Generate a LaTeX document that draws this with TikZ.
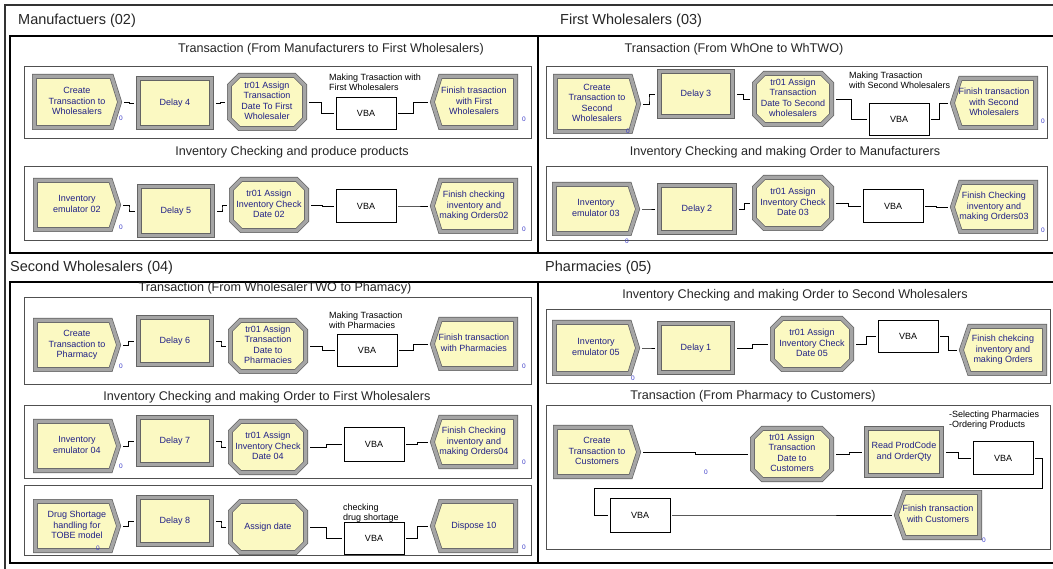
\documentclass[tikz,border=0pt]{standalone}
\usepackage{fontspec}
\setmainfont{Liberation Sans}
\usetikzlibrary{calc}

\definecolor{modfill}{RGB}{251,249,194}
\definecolor{bevdark}{RGB}{100,100,100}
\definecolor{bevmid}{RGB}{165,165,165}
\definecolor{modtext}{RGB}{32,32,135}
\definecolor{zerocol}{RGB}{60,60,200}
\definecolor{subline}{RGB}{80,80,80}

\tikzset{
  bevel/.style={fill=modfill, draw=bevdark, line width=0.7pt, double=bevmid, double distance=3.4pt, line join=miter},
  modbox/.style={rectangle, inner sep=0pt, text=modtext, font=\fontsize{9}{10.5}\selectfont},
  vbabox/.style={rectangle, draw=black, line width=0.7pt, fill=white, inner sep=0pt, font=\fontsize{9}{10.5}\selectfont},
  conn/.style={draw=black, line width=0.7pt, shorten <=2pt, shorten >=2pt},
  grp/.style={draw=black, line width=1.6pt},
  subbox/.style={draw=subline, line width=0.8pt},
  sectitle/.style={anchor=west, font=\fontsize{14.5}{16}\selectfont, text=black!85, inner sep=0pt},
  subtitle/.style={font=\fontsize{12.6}{14}\selectfont, text=black!85, inner sep=0pt},
  note/.style={anchor=north west, align=left, font=\fontsize{9}{10}\selectfont, inner sep=0pt},
  zero/.style={font=\fontsize{6.5}{7}\selectfont, text=zerocol, inner sep=0pt},
}

% centred multi-line module caption that never widens its node
\newcommand\mtext[1]{\makebox[0pt]{\begin{tabular}{@{}c@{}}#1\end{tabular}}}

% inner outline of a module with centre (#1,#2), width #3, height #4
\newcommand\modgeom[4]{%
  \pgfmathsetmacro\gxl{#1-#3/2+2.4}%
  \pgfmathsetmacro\gxr{#1+#3/2-2.4}%
  \pgfmathsetmacro\gyt{#2-#4/2+2.4}%
  \pgfmathsetmacro\gyb{#2+#4/2-2.4}}

% Create module: arrow pointing right
\newcommand\createmod[6]{%
  \modgeom{#2}{#3}{#4}{#5}%
  \path[bevel] (\gxl,\gyt) -- ({\gxr-8},\gyt) -- (\gxr,#3) -- ({\gxr-8},\gyb) -- (\gxl,\gyb) -- cycle;
  \node[modbox, minimum width=#4, minimum height=#5] (#1) at (#2,#3) {\mtext{#6}};}

% Dispose module: point on the left
\newcommand\disposemod[6]{%
  \modgeom{#2}{#3}{#4}{#5}%
  \path[bevel] ({\gxl+8},\gyt) -- (\gxr,\gyt) -- (\gxr,\gyb) -- ({\gxl+8},\gyb) -- (\gxl,#3) -- cycle;
  \node[modbox, minimum width=#4, minimum height=#5] (#1) at (#2,#3) {\mtext{#6}};}

% Process / ReadWrite module: plain rectangle
\newcommand\procmod[6]{%
  \modgeom{#2}{#3}{#4}{#5}%
  \path[bevel] (\gxl,\gyt) rectangle (\gxr,\gyb);
  \node[modbox, minimum width=#4, minimum height=#5] (#1) at (#2,#3) {\mtext{#6}};}

% Assign module: chamfered rectangle
\newcommand\assignmod[6]{%
  \modgeom{#2}{#3}{#4}{#5}%
  \path[bevel] ({\gxl+10},\gyt) -- ({\gxr-10},\gyt) -- (\gxr,{\gyt+10}) -- (\gxr,{\gyb-10})
     -- ({\gxr-10},\gyb) -- ({\gxl+10},\gyb) -- (\gxl,{\gyb-10}) -- (\gxl,{\gyt+10}) -- cycle;
  \node[modbox, minimum width=#4, minimum height=#5] (#1) at (#2,#3) {\mtext{#6}};}

% VBA block
\newcommand\vbamod[5]{%
  \node[vbabox, minimum width=#4, minimum height=#5] (#1) at (#2,#3) {VBA};}

% orthogonal connector with a step half way
\newcommand\link[2]{\draw[conn] (#1.east) -| ($(#1.east)!0.5!(#2.west)$) |- (#2.west);}

\begin{document}
\begin{tikzpicture}[x=1pt,y=-1pt]
\clip (0,0) rectangle (1053,569);
\fill[white] (0,0) rectangle (1053,569);

% outer frame
\draw[line width=1.3pt, draw=black!80] (5,569) -- (5,5) -- (1053,5);

% submodel frames
\draw[grp] (10,36) rectangle (538,253);
\draw[grp] (538,36) rectangle (1060,253);
\draw[grp] (10,282) rectangle (538,563);
\draw[grp] (538,282) rectangle (1060,563);

\node[sectitle] (s1) at (18,21) {Manufactuers (02)};
\node[sectitle] (s2) at (560,21) {First Wholesalers (03)};
\node[sectitle] (s3) at (10,268) {Second Wholesalers (04)};
\node[sectitle] (s4) at (545,268) {Pharmacies (05)};

% ---------------- Manufacturers ----------------
\node[subtitle] (t1) at (331,49) {Transaction (From Manufacturers to First Wholesalers)};
\draw[subbox] (24,66) rectangle (531,138);
\createmod{cw}{77}{102}{90}{56}{Create\\Transaction to\\Wholesalers}
\procmod{d4}{175}{103}{78}{54}{Delay 4}
\assignmod{a1}{267}{102}{80}{58}{tr01 Assign\\Transaction\\Date To First\\Wholesaler}
\vbamod{vb1}{366}{113}{60}{32}
\node[note] (n1) at (329,74) {Making Trasaction with\\First Wholesalers};
\disposemod{f1}{474}{102}{88}{56}{Finish trasaction\\with First\\Wholesalers}
\node[zero] (z1) at (121,118) {0};
\node[zero] (z2) at (524,119) {0};
\link{cw}{d4}\link{d4}{a1}\link{a1}{vb1}\link{vb1}{f1}

\node[subtitle] (t2) at (292,152) {Inventory Checking and produce products};
\draw[subbox] (24,166) rectangle (531,240);
\createmod{ie2}{77}{205}{88}{54}{Inventory\\emulator 02}
\procmod{d5}{176}{211}{78}{54}{Delay 5}
\assignmod{a2}{269}{205}{80}{56}{tr01 Assign\\Inventory Check\\Date 02}
\vbamod{vb2}{366}{206}{60}{33}
\disposemod{f2}{474}{206}{88}{56}{Finish checking\\inventory and\\making Orders02}
\node[zero] (z3) at (121,227) {0};
\node[zero] (z4) at (524,229) {0};
\link{ie2}{d5}\link{d5}{a2}\link{a2}{vb2}\link{vb2}{f2}

% ---------------- First Wholesalers ----------------
\node[subtitle] (t3) at (734,49) {Transaction (From WhOne to WhTWO)};
\draw[subbox] (546,66) rectangle (1047,138);
\createmod{c3}{597}{104}{88}{60}{Create\\Transaction to\\Second\\Wholesalers}
\procmod{d3}{696}{94}{78}{50}{Delay 3}
\assignmod{a3}{793}{99}{82}{56}{tr01 Assign\\Transaction\\Date To Second\\wholesalers}
\node[note] (n3) at (849,72) {Making Trasaction\\with Second Wholesalers};
\vbamod{vb3}{899}{119}{60}{32}
\disposemod{f3}{994}{103}{88}{54}{Finish transaction\\with Second\\Wholesalers}
\node[zero] (z5) at (628,131) {0};
\node[zero] (z6) at (1043,121) {0};
\link{c3}{d3}\link{d3}{a3}\link{a3}{vb3}\link{vb3}{f3}

\node[subtitle] (t4) at (785,152) {Inventory Checking and making Order to Manufacturers};
\draw[subbox] (546,166) rectangle (1047,240);
\createmod{ie3}{596}{209}{88}{54}{Inventory\\emulator 03}
\procmod{d2}{697}{209}{80}{52}{Delay 2}
\assignmod{a4}{793}{203}{82}{56}{tr01 Assign\\Inventory Check\\Date 03}
\vbamod{vb4}{893}{206}{60}{33}
\disposemod{f4}{994}{207}{88}{54}{Finish Checking\\inventory and\\making Orders03}
\node[zero] (z7) at (627,241) {0};
\node[zero] (z8) at (1043,230) {0};
\link{ie3}{d2}\link{d2}{a4}\link{a4}{vb4}\link{vb4}{f4}

% ---------------- Second Wholesalers ----------------
\node[subtitle] (t5) at (275,288) {Transaction (From WholesalerTWO to Phamacy)};
\draw[subbox] (24,297) rectangle (531,384);
\createmod{c5}{77}{345}{88}{54}{Create\\Transaction to\\Pharmacy}
\procmod{d6}{175}{341}{78}{52}{Delay 6}
\assignmod{a5}{268}{346}{80}{56}{tr01 Assign\\Transaction\\Date to\\Pharmacies}
\node[note] (n5) at (329,312) {Making Trasaction\\with Pharmacies};
\vbamod{vb5}{367}{350}{60}{32}
\disposemod{f5}{474}{344}{88}{54}{Finish transaction\\with Pharmacies}
\node[zero] (z9) at (121,366) {0};
\node[zero] (z10) at (524,366) {0};
\link{c5}{d6}\link{d6}{a5}\link{a5}{vb5}\link{vb5}{f5}

\node[subtitle] (t6) at (267,397) {Inventory Checking and making Order to First Wholesalers};
\draw[subbox] (24,405) rectangle (531,478);
\createmod{ie4}{77}{446}{88}{54}{Inventory\\emulator 04}
\procmod{d7}{175}{441}{78}{52}{Delay 7}
\assignmod{a6}{268}{447}{80}{56}{tr01 Assign\\Inventory Check\\Date 04}
\vbamod{vb6}{374}{444}{60}{34}
\disposemod{f6}{474}{442}{88}{54}{Finish Checking\\inventory and\\making Orders04}
\node[zero] (z11) at (121,466) {0};
\node[zero] (z12) at (524,462) {0};
\link{ie4}{d7}\link{d7}{a6}\link{a6}{vb6}\link{vb6}{f6}

\draw[subbox] (24,485) rectangle (531,555);
\createmod{ds}{77}{526}{88}{54}{Drug Shortage\\handling for\\TOBE model}
\procmod{d8}{175}{521}{78}{52}{Delay 8}
\assignmod{ad}{268}{527}{80}{56}{Assign date}
\node[note] (n7) at (343,504) {checking\\drug shortage};
\vbamod{vb7}{374}{538}{60}{32}
\disposemod{dp}{474}{526}{88}{54}{Dispose 10}
\node[zero] (z13) at (98,548) {0};
\node[zero] (z14) at (524,547) {0};
\link{ds}{d8}\link{d8}{ad}\link{ad}{vb7}\link{vb7}{dp}

% ---------------- Pharmacies ----------------
\node[subtitle] (t7) at (795,295) {Inventory Checking and making Order to Second Wholesalers};
\draw[subbox] (546,309) rectangle (1050,383);
\createmod{ie5}{596}{348}{88}{56}{Inventory\\emulator 05}
\procmod{d1}{696}{348}{78}{54}{Delay 1}
\assignmod{a7}{812}{344}{84}{56}{tr01 Assign\\Inventory Check\\Date 05}
\vbamod{vb8}{908}{336}{60}{32}
\disposemod{f7}{1003}{350}{88}{52}{Finish chekcing\\inventory and\\making Orders}
\node[zero] (z15) at (633,378) {0};
\link{ie5}{d1}\link{d1}{a7}\link{a7}{vb8}\link{vb8}{f7}

\node[subtitle] (t8) at (753,396) {Transaction (From Pharmacy to Customers)};
\draw[subbox] (546,405) rectangle (1050,549);
\createmod{cc}{597}{452}{88}{54}{Create\\Transaction to\\Customers}
\assignmod{a8}{792}{454}{84}{56}{tr01 Assign\\Transaction\\Date to\\Customers}
\procmod{rp}{904}{452}{80}{52}{Read ProdCode\\and OrderQty}
\node[note] (n8) at (949,411) {-Selecting Pharmacies\\-Ordering Products};
\vbamod{vb9}{1003}{458}{60}{33}
\vbamod{vb10}{640}{515}{60}{34}
\disposemod{fc}{938}{515}{88}{50}{Finish transaction\\with Customers}
\node[zero] (z16) at (706,472) {0};
\node[zero] (z17) at (984,540) {0};
\coordinate (loop) at (594,488);
\link{cc}{a8}\link{a8}{rp}\link{rp}{vb9}
\draw[conn] (vb9.east) -- ++(9,0) |- (loop) |- (vb10.west);
\link{vb10}{fc}

\end{tikzpicture}
\end{document}
